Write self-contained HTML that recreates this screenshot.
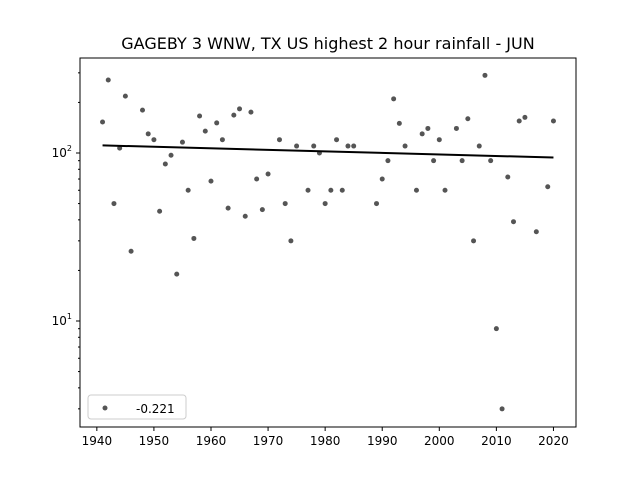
<!DOCTYPE html>
<html><head><meta charset="utf-8"><style>
body{margin:0;background:#fff;font-family:"DejaVu Sans","Liberation Sans",sans-serif}
</style></head><body>
<svg id="chart" width="640" height="480" xmlns="http://www.w3.org/2000/svg" font-family="DejaVu Sans, Liberation Sans, sans-serif">
<rect width="640" height="480" fill="#fff"/>
<text x="328" y="49" text-anchor="middle" font-size="16">GAGEBY 3 WNW, TX US highest 2 hour rainfall - JUN</text>
<g id="plot"></g>
<rect x="80" y="58" width="496" height="369" fill="none" stroke="#000" stroke-width="1"/>
<g>
<rect x="88" y="395" width="98" height="24" rx="3" fill="#fff" stroke="#ccc"/>
<circle cx="105" cy="408" r="2.5" fill="#555"/>
<text x="136" y="413" font-size="12">-0.221</text>
</g>
</svg>
<script>
const years=[1941,1942,1943,1944,1945,1946,1948,1949,1950,1951,1952,1953,1954,1955,1956,1957,1958,1959,1960,1961,1962,1963,1964,1965,1966,1967,1968,1969,1970,1972,1973,1974,1975,1977,1978,1979,1980,1981,1982,1983,1984,1985,1989,1990,1991,1992,1993,1994,1996,1997,1998,1999,2000,2001,2003,2004,2005,2006,2007,2008,2009,2010,2011,2012,2013,2014,2015,2017,2019,2020];
const rain=[153,272,50,107,218,26,180,130,120,45,86,97,19,116,60,31,166,135,68,151,120,47,168,183,42,175,70,46,75,120,50,30,110,60,110,100,50,60,120,60,110,110,50,70,90,210,150,110,60,130,140,90,120,60,140,90,160,30,110,290,90,9,3,72,39,155,163,34,63,155];
const trendYears=[1941,2020];
const trendValues=[111,94];
const xTicks=[1940,1950,1960,1970,1980,1990,2000,2010,2020];
const yTicks=[1,2];
const NS="http://www.w3.org/2000/svg";
const L=80,R=576,T=58,B=427,X0=1937.05,X1=2023.95;
function xs(v){return L+(v-X0)/(X1-X0)*(R-L);}
function ys(v){return 153-(Math.log10(v)-2)*168;}
const g=document.getElementById('plot');
function mk(t,a){const e=document.createElementNS(NS,t);for(const k in a)e.setAttribute(k,a[k]);g.appendChild(e);return e;}
years.forEach((yr,i)=>{
 const c=mk('circle',{cx:xs(yr),cy:ys(rain[i]),r:2.5,fill:'#555'});
 
 
});
const tl=mk('line',{x1:xs(trendYears[0]),y1:ys(trendValues[0]),x2:xs(trendYears[1]),y2:ys(trendValues[1]),stroke:'#000','stroke-width':2});


xTicks.forEach(v=>{
 const x=xs(v);
 const t=mk('line',{x1:x,y1:B,x2:x,y2:B+4,stroke:'#000'});
 
 
 const lb=mk('text',{x:x,y:B+18,'text-anchor':'middle','font-size':12});
 lb.textContent=v;
 
 
});
for(let e=0;e<=2;e++){for(let m=1;m<10;m++){const v=m*Math.pow(10,e);const y=ys(v);if(y<T||y>B)continue;
 const t=mk('line',{x1:L-(m==1?4:2),y1:y,x2:L,y2:y,stroke:'#000'});
 
 
}}
yTicks.forEach(p=>{
 const y=ys(Math.pow(10,p));
 const lb=mk('text',{x:L-8,y:y+4,'text-anchor':'end','font-size':12});
 lb.innerHTML='10<tspan font-size="8" dy="-6">'+p+'</tspan>';
 
 
});
</script>
</body></html>
